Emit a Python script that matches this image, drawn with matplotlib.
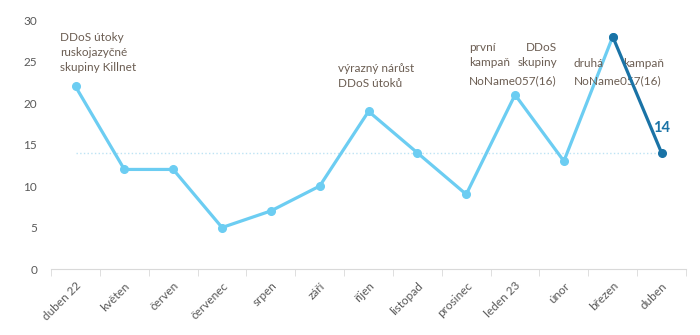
import matplotlib
matplotlib.use('Agg')
import matplotlib.pyplot as plt

months = ['duben 22', 'květen', 'červen', 'červenec', 'srpen', 'září', 'říjen',
          'listopad', 'prosinec', 'leden 23', 'únor', 'březen', 'duben']
attacks = [22, 12, 12, 5, 7, 10, 19, 14, 9, 21, 13, 28, 14]
ref_level = 14

light = '#6ccdf2'
dark = '#1a73a6'
grey = '#595959'
note = '#6b5d52'

plt.rcParams['font.family'] = ['Lato', 'DejaVu Sans']

fig = plt.figure(figsize=(7, 3.35), dpi=100)
ax = fig.add_axes([0.073, 0.197, 0.907, 0.743])

x = list(range(len(months)))
ax.plot(x[:-1], attacks[:-1], color=light, lw=2.3, marker='o', ms=5.5, zorder=3)
ax.plot(x[-2:], attacks[-2:], color=dark, lw=2.3, marker='o', ms=5.5, zorder=4)
ax.plot([x[0], x[-1]], [ref_level, ref_level], color='#bde3f4', lw=1, ls=':', zorder=1)

ax.text(x[-1], attacks[-1] + 2.2, str(attacks[-1]), color=dark, fontsize=10.5,
        fontweight='bold', ha='center', va='bottom')

# annotations
ax.text(-0.31, 28.6, 'DDoS útoky\nruskojazyčné\nskupiny Killnet', color=note,
        fontsize=8.5, va='top', ha='left', linespacing=1.45)
ax.text(5.37, 24.8, 'výrazný nárůst\nDDoS útoků', color=note,
        fontsize=8.5, va='top', ha='left', linespacing=1.45)
ax.text(8.05, 27.4, 'první\nkampaň', color=note, fontsize=8.5, va='top',
        ha='left', linespacing=1.45)
ax.text(9.86, 27.4, 'DDoS\nskupiny', color=note, fontsize=8.5, va='top',
        ha='right', linespacing=1.45)
ax.text(8.05, 23.4, 'NoName057(16)', color=note, fontsize=8.5, va='top', ha='left')
ax.text(10.2, 25.4, 'druhá', color=note, fontsize=8.5, va='top', ha='left')
ax.text(12.05, 25.4, 'kampaň', color=note, fontsize=8.5, va='top', ha='right')
ax.text(10.2, 23.4, 'NoName057(16)', color=note, fontsize=8.5, va='top', ha='left')

ax.set_xlim(-0.5, len(months) - 0.5)
ax.set_ylim(0, 30)
ax.set_yticks(range(0, 31, 5))
ax.set_xticks(x)
ax.set_xticklabels(months, rotation=45, ha='right', rotation_mode='anchor')
ax.set_xticks([i - 0.5 for i in range(len(months) + 1)], minor=True)
ax.tick_params(axis='x', which='major', length=0, pad=8, labelsize=8.5, labelcolor=grey)
ax.tick_params(axis='x', which='minor', length=5, color='#d9d9d9', direction='out')
ax.tick_params(axis='y', length=0, pad=10, labelsize=8.5, labelcolor=grey)

for s in ['top', 'right', 'left']:
    ax.spines[s].set_visible(False)
ax.spines['bottom'].set_color('#d9d9d9')

fig.savefig('out.png', dpi=100)
